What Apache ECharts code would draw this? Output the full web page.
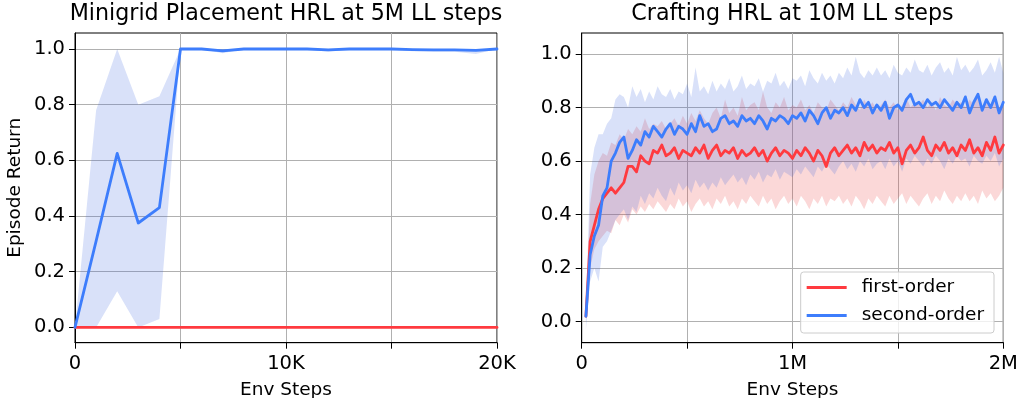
<!DOCTYPE html>
<html><head><meta charset="utf-8">
<script src="https://cdn.jsdelivr.net/npm/echarts@6/dist/echarts.min.js"></script>
<style>html,body{margin:0;padding:0;background:#fff}#c{width:1019px;height:398px}</style>
</head><body><div id="c"></div>
<script>
// ---------- Left panel: Minigrid Placement HRL ----------
const minigridSteps = [0,1000,2000,3000,4000,5000,6000,7000,8000,9000,10000,11000,12000,13000,14000,15000,16000,17000,18000,19000,20000];
const minigridFirstMean = [0,0,0,0,0,0,0,0,0,0,0,0,0,0,0,0,0,0,0,0,0];
const minigridSecondMean = [0,0.31,0.625,0.375,0.43,1.0,1.0,0.993,1.0,1.0,1.0,1.0,0.997,1.0,1.0,1.0,0.998,0.997,0.997,0.995,1.0];
const minigridSecondLower = [0,0.0,0.13,0.0,0.03,1.0,1.0,0.985,1.0,1.0,1.0,0.998,0.99,0.998,1.0,0.998,0.992,0.99,0.99,0.982,1.0];
const minigridSecondUpper = [0,0.78,1.0,0.80,0.83,1.0,1.0,1.0,1.0,1.0,1.0,1.0,1.0,1.0,1.0,1.0,1.0,1.0,1.0,1.0,1.0];

// ---------- Right panel: Crafting HRL (steps in thousands) ----------
const craftingStepsK = [20,40,60,80,100,120,140,160,180,200,220,240,260,280,300,320,340,360,380,400,420,440,460,480,500,520,540,560,580,600,620,640,660,680,700,720,740,760,780,800,820,840,860,880,900,920,940,960,980,1000,1020,1040,1060,1080,1100,1120,1140,1160,1180,1200,1220,1240,1260,1280,1300,1320,1340,1360,1380,1400,1420,1440,1460,1480,1500,1520,1540,1560,1580,1600,1620,1640,1660,1680,1700,1720,1740,1760,1780,1800,1820,1840,1860,1880,1900,1920,1940,1960,1980,2000];
const craftingFirstMean = [
0.02,0.30,0.36,0.42,0.46,0.48,0.50,0.48,0.50,0.52,
0.58,0.58,0.56,0.62,0.60,0.59,0.64,0.63,0.66,0.62,
0.63,0.65,0.61,0.64,0.63,0.62,0.65,0.63,0.66,0.61,
0.64,0.66,0.62,0.64,0.63,0.65,0.61,0.64,0.62,0.63,
0.65,0.62,0.64,0.60,0.63,0.65,0.62,0.64,0.63,0.61,
0.64,0.62,0.65,0.63,0.60,0.64,0.62,0.58,0.63,0.65,
0.62,0.64,0.66,0.63,0.65,0.62,0.67,0.64,0.66,0.63,
0.65,0.64,0.67,0.63,0.65,0.59,0.64,0.66,0.63,0.65,
0.69,0.64,0.62,0.66,0.64,0.67,0.63,0.65,0.62,0.66,
0.64,0.68,0.63,0.65,0.62,0.67,0.64,0.69,0.63,0.66];
const craftingFirstLower = [
0.00,0.20,0.27,0.30,0.32,0.34,0.33,0.38,0.36,0.40,
0.37,0.42,0.40,0.43,0.41,0.44,0.42,0.45,0.43,0.41,
0.44,0.42,0.46,0.43,0.45,0.41,0.44,0.46,0.43,0.45,
0.42,0.46,0.44,0.47,0.43,0.45,0.42,0.46,0.44,0.47,
0.45,0.43,0.47,0.44,0.46,0.42,0.45,0.47,0.44,0.46,
0.43,0.47,0.45,0.42,0.46,0.44,0.47,0.43,0.46,0.45,
0.47,0.44,0.46,0.43,0.47,0.45,0.42,0.46,0.44,0.47,
0.45,0.43,0.47,0.44,0.46,0.48,0.44,0.47,0.45,0.43,
0.46,0.48,0.44,0.47,0.45,0.49,0.46,0.44,0.47,0.45,
0.48,0.45,0.47,0.44,0.49,0.46,0.48,0.45,0.47,0.50];
const craftingFirstUpper = [
0.04,0.44,0.55,0.60,0.63,0.62,0.67,0.66,0.70,0.68,
0.72,0.70,0.73,0.71,0.76,0.72,0.74,0.73,0.75,0.72,
0.74,0.76,0.73,0.77,0.74,0.78,0.75,0.79,0.76,0.74,
0.78,0.80,0.76,0.83,0.78,0.80,0.77,0.84,0.79,0.81,
0.82,0.79,0.86,0.80,0.78,0.82,0.80,0.84,0.79,0.81,
0.80,0.83,0.79,0.81,0.78,0.82,0.80,0.79,0.83,0.81,
0.79,0.82,0.80,0.84,0.81,0.79,0.83,0.80,0.82,0.79,
0.81,0.83,0.80,0.82,0.79,0.81,0.84,0.80,0.82,0.81,
0.83,0.80,0.82,0.79,0.84,0.81,0.80,0.83,0.81,0.82,
0.80,0.83,0.81,0.85,0.80,0.82,0.81,0.84,0.80,0.82];
const craftingSecondMean = [
0.02,0.25,0.32,0.36,0.47,0.50,0.60,0.63,0.67,0.69,
0.61,0.64,0.68,0.66,0.71,0.69,0.73,0.71,0.69,0.72,
0.74,0.70,0.73,0.72,0.70,0.74,0.71,0.77,0.73,0.74,
0.71,0.72,0.76,0.77,0.74,0.75,0.73,0.77,0.75,0.76,
0.74,0.77,0.75,0.72,0.76,0.75,0.77,0.76,0.74,0.77,
0.76,0.78,0.75,0.79,0.77,0.74,0.78,0.80,0.76,0.79,
0.78,0.80,0.77,0.81,0.79,0.83,0.80,0.82,0.78,0.81,
0.79,0.82,0.76,0.80,0.81,0.79,0.83,0.85,0.81,0.82,
0.80,0.83,0.81,0.82,0.80,0.83,0.81,0.79,0.82,0.80,
0.84,0.78,0.82,0.85,0.79,0.83,0.80,0.84,0.78,0.82];
const craftingSecondLower = [
-0.03,0.15,0.20,0.15,0.28,0.30,0.34,0.38,0.40,0.42,
0.38,0.43,0.41,0.47,0.44,0.48,0.46,0.50,0.47,0.45,
0.50,0.47,0.52,0.49,0.51,0.48,0.53,0.50,0.52,0.49,
0.52,0.50,0.54,0.51,0.53,0.55,0.52,0.54,0.51,0.55,
0.53,0.56,0.52,0.55,0.54,0.57,0.53,0.56,0.55,0.54,
0.57,0.55,0.58,0.56,0.54,0.58,0.56,0.59,0.57,0.55,
0.58,0.60,0.57,0.59,0.56,0.60,0.58,0.61,0.57,0.59,
0.60,0.57,0.61,0.58,0.60,0.56,0.61,0.59,0.62,0.60,
0.58,0.61,0.59,0.62,0.60,0.57,0.61,0.59,0.62,0.60,
0.61,0.58,0.62,0.60,0.59,0.62,0.60,0.63,0.58,0.61];
const craftingSecondUpper = [
0.05,0.55,0.65,0.70,0.70,0.74,0.76,0.83,0.85,0.84,
0.80,0.88,0.84,0.87,0.82,0.86,0.83,0.88,0.85,0.84,
0.87,0.83,0.86,0.85,0.89,0.84,0.95,0.86,0.88,0.85,
0.90,0.86,0.89,0.87,0.91,0.86,0.88,0.92,0.87,0.89,
0.88,0.91,0.86,0.90,0.89,0.93,0.88,0.90,0.87,0.91,
0.90,0.92,0.88,0.94,0.91,0.89,0.93,0.90,0.92,0.89,
0.93,0.91,0.95,0.92,0.99,0.93,0.91,0.94,0.92,0.95,
0.92,0.94,0.91,0.96,0.93,0.92,0.95,0.93,0.98,0.94,
0.93,0.96,0.92,0.95,0.97,0.93,0.95,0.92,0.99,0.94,
0.96,0.93,0.95,0.98,0.92,0.94,0.97,0.93,0.99,0.93];

const yTickValues = [0, 0.2, 0.4, 0.6, 0.8, 1.0];
const leftXTickLabels = {0: '0', 10000: '10K', 20000: '20K'};
const rightXTickLabels = {0: '0', 1000000: '1M', 2000000: '2M'};
const titles = ['Minigrid Placement HRL at 5M LL steps', 'Crafting HRL at 10M LL steps'];
const seriesNames = ['first-order', 'second-order'];

// ---------- styling ----------
const FONT = 'DejaVu Sans';
const RED = '#ff3a3f';
const BLUE = '#3d7dfc';
const RED_BAND = 'rgba(235,60,60,0.2)';
const BLUE_BAND = 'rgba(65,105,225,0.2)';

const craftingSteps = craftingStepsK.map(k => k * 1000);
const pairs = (xs, ys) => xs.map((x, i) => [x, ys[i]]);

function bandSeries(gi, xs, lower, upper, color) {
  return {
    type: 'custom', xAxisIndex: gi, yAxisIndex: gi, silent: true, clip: true, z: 1, animation: false,
    data: xs.map((x, i) => [x, lower[i], upper[i]]),
    encode: {x: 0, y: [1, 2]},
    renderItem: function (params, api) {
      if (params.dataIndex !== 0) return null;
      const pts = [];
      for (let i = 0; i < xs.length; i++) pts.push(api.coord([xs[i], upper[i]]));
      for (let i = xs.length - 1; i >= 0; i--) pts.push(api.coord([xs[i], lower[i]]));
      return {type: 'polygon', shape: {points: pts}, style: {fill: color, stroke: null}, silent: true};
    }
  };
}
function meanSeries(name, gi, xs, ys, color, z) {
  return {type: 'line', name: name, xAxisIndex: gi, yAxisIndex: gi, data: pairs(xs, ys),
    symbol: 'none', lineStyle: {width: 2.8, color: color, join: 'round', cap: 'round'}, itemStyle: {color: color}, z: z, animation: false};
}

const tickFont = {color: '#000', fontFamily: FONT, fontSize: 19.5};
const nameFont = {color: '#000', fontFamily: FONT, fontSize: 18.5};
function yAxis(gi, min, max, showName) {
  return {
    type: 'value', gridIndex: gi, min: min, max: max, splitNumber: 5,
    name: showName ? 'Episode Return' : '', nameLocation: 'middle', nameGap: 50,
    nameTextStyle: nameFont,
    axisLine: {show: true, lineStyle: {color: '#000', width: 1}},
    axisTick: {show: true, length: 6, lineStyle: {color: '#000'}, customValues: yTickValues},
    axisLabel: Object.assign({margin: 10, customValues: yTickValues, showMinLabel: true, showMaxLabel: true,
      formatter: v => (Math.abs(v * 5 - Math.round(v * 5)) < 1e-6 ? v.toFixed(1) : '')}, tickFont),
    splitLine: {show: true, showMinLine: true, showMaxLine: true, customValues: yTickValues,
      lineStyle: {color: '#b0b0b0', width: 1}}
  };
}
function xAxis(gi, max, interval, labels) {
  return {
    type: 'value', gridIndex: gi, min: 0, max: max, interval: interval,
    name: 'Env Steps', nameLocation: 'middle', nameGap: 38,
    nameTextStyle: nameFont,
    axisLine: {show: true, onZero: false, lineStyle: {color: '#000', width: 1}},
    axisTick: {show: true, length: 6, lineStyle: {color: '#000'}},
    axisLabel: Object.assign({margin: 11, showMinLabel: true, showMaxLabel: true,
      formatter: v => (labels[v] !== undefined ? labels[v] : '')}, tickFont),
    splitLine: {show: true, lineStyle: {color: '#b0b0b0', width: 1}}
  };
}

const chart = echarts.init(document.getElementById('c'), null, {renderer: 'canvas'});
chart.setOption({
  animation: false,
  backgroundColor: '#fff',
  title: [
    {text: titles[0], left: 286, top: 3, textAlign: 'center', padding: 0,
     textStyle: {color: '#000', fontFamily: FONT, fontSize: 22.2, fontWeight: 'normal'}},
    {text: titles[1], left: 792.5, top: 3, textAlign: 'center', padding: 0,
     textStyle: {color: '#000', fontFamily: FONT, fontSize: 22.2, fontWeight: 'normal'}}
  ],
  grid: [
    {left: 75, top: 33, width: 422, height: 309.7, show: true, borderColor: '#000', borderWidth: 1, containLabel: false, outerBoundsMode: 'none'},
    {left: 581.7, top: 33, width: 421.6, height: 309.7, show: true, borderColor: '#000', borderWidth: 1, containLabel: false, outerBoundsMode: 'none'}
  ],
  xAxis: [xAxis(0, 20000, 5000, leftXTickLabels), xAxis(1, 2000000, 500000, rightXTickLabels)],
  yAxis: [yAxis(0, -0.055, 1.0575, true), yAxis(1, -0.079, 1.079, false)],
  legend: {
    data: seriesNames, orient: 'vertical', right: 25, bottom: 65,
    icon: 'rect', itemWidth: 40, itemHeight: 3, itemGap: 9,
    padding: [6, 10, 8, 6],
    backgroundColor: 'rgba(255,255,255,0.8)', borderColor: '#cccccc', borderWidth: 1, borderRadius: 3,
    textStyle: {color: '#000', fontFamily: FONT, fontSize: 18.5, padding: [0, 0, 0, 10]},
    selectedMode: false
  },
  series: [
    bandSeries(0, minigridSteps, minigridSecondLower, minigridSecondUpper, BLUE_BAND),
    meanSeries('mg-first-order', 0, minigridSteps, minigridFirstMean, RED, 3),
    meanSeries('mg-second-order', 0, minigridSteps, minigridSecondMean, BLUE, 4),
    bandSeries(1, craftingSteps, craftingFirstLower, craftingFirstUpper, RED_BAND),
    bandSeries(1, craftingSteps, craftingSecondLower, craftingSecondUpper, BLUE_BAND),
    meanSeries(seriesNames[0], 1, craftingSteps, craftingFirstMean, RED, 3),
    meanSeries(seriesNames[1], 1, craftingSteps, craftingSecondMean, BLUE, 4)
  ]
});
</script></body></html>
